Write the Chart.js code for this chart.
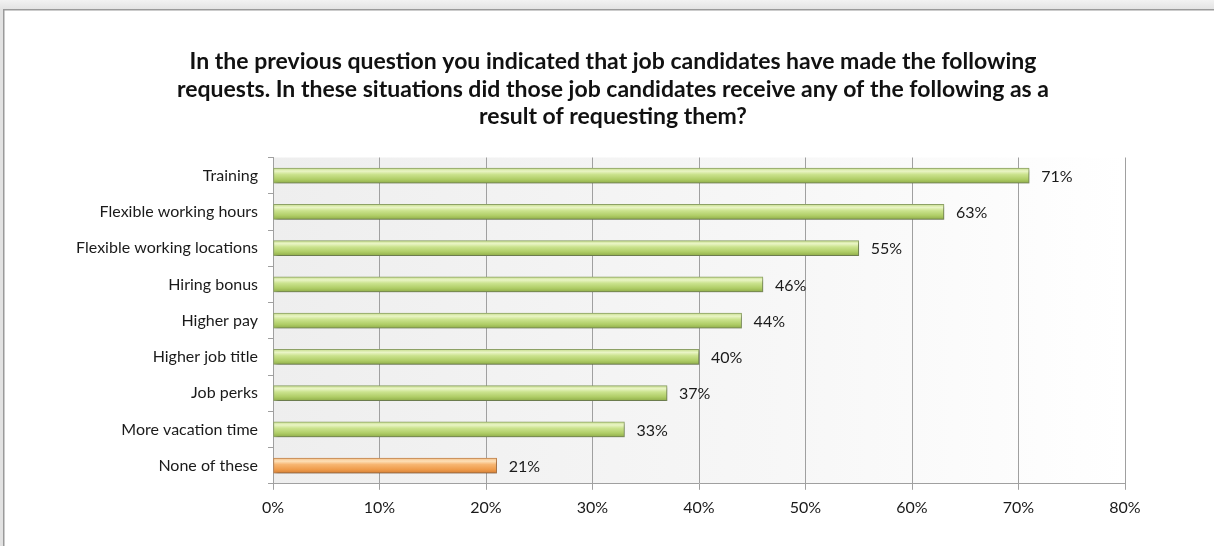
<!DOCTYPE html>
<html>
<head>
<meta charset="utf-8">
<script src="https://cdn.jsdelivr.net/npm/chart.js@4"></script>
<style>
  html, body { margin: 0; padding: 0; background: #ececec; }
  #wrap { position: relative; width: 1214px; height: 546px; }
</style>
</head>
<body>
<div id="wrap"><canvas id="requestsChart"></canvas></div>
<script>
const titleLines = [
  "In the previous question you indicated that job candidates have made the following",
  "requests. In these situations did those job candidates receive any of the following as a",
  "result of requesting them?"
];
const categories = [
  "Training",
  "Flexible working hours",
  "Flexible working locations",
  "Hiring bonus",
  "Higher pay",
  "Higher job title",
  "Job perks",
  "More vacation time",
  "None of these"
];
const values = [71, 63, 55, 46, 44, 40, 37, 33, 21];
const xTicks = [0, 10, 20, 30, 40, 50, 60, 70, 80];
const noneLabel = "None of these";

const BAR_H = 15;
const FONT = "Lato, 'Open Sans', sans-serif";

// cylinder-like shading for each bar, built from the bar's own y position
function barFill(context) {
  const chart = context.chart;
  if (!chart.chartArea) return "#b4d46a";
  const y = chart.scales.y.getPixelForValue(context.dataIndex);
  const g = chart.ctx.createLinearGradient(0, y - BAR_H / 2, 0, y + BAR_H / 2);
  if (categories[context.dataIndex] === noneLabel) {
    g.addColorStop(0, "#f5bf86");
    g.addColorStop(0.2, "#fde0b8");
    g.addColorStop(0.42, "#f7b672");
    g.addColorStop(0.75, "#ef9c4b");
    g.addColorStop(1, "#d58037");
  } else {
    g.addColorStop(0, "#c6dd8c");
    g.addColorStop(0.2, "#eaf5c6");
    g.addColorStop(0.42, "#cbe38e");
    g.addColorStop(0.75, "#afcd66");
    g.addColorStop(1, "#90ad4a");
  }
  return g;
}

function barBorder(context) {
  return categories[context.dataIndex] === noneLabel ? "#c08550" : "#8fa468";
}

// white panel with a grey frame, plus the faded plot background
const framePlugin = {
  id: "frame",
  afterLayout(chart) {
    // centre the title across the whole panel, not just the padded area
    if (chart.titleBlock) {
      chart.titleBlock.left = 12;
      chart.titleBlock.right = chart.width;
    }
  },
  beforeDraw(chart) {
    const { ctx, chartArea: a, width, height } = chart;
    ctx.save();
    const bg = ctx.createLinearGradient(0, 0, 0, 10);
    bg.addColorStop(0, "#f2f2f2");
    bg.addColorStop(1, "#e2e2e2");
    ctx.fillStyle = bg;
    ctx.fillRect(0, 0, width, height);
    ctx.fillStyle = "#ffffff";
    ctx.fillRect(4, 10, width - 4, height - 10);
    ctx.strokeStyle = "#9a9a9a";
    ctx.lineWidth = 1.5;
    ctx.beginPath();
    ctx.moveTo(3.75, height);
    ctx.lineTo(3.75, 9.75);
    ctx.lineTo(width, 9.75);
    ctx.stroke();

    const pg = ctx.createLinearGradient(a.left, 0, a.right, 0);
    pg.addColorStop(0, "#eeeeee");
    pg.addColorStop(0.6, "#f7f7f7");
    pg.addColorStop(1, "#ffffff");
    ctx.fillStyle = pg;
    ctx.fillRect(a.left, a.top, a.right - a.left, a.bottom - a.top);
    ctx.restore();
  }
};

// soft drop shadow under the bars
const shadowPlugin = {
  id: "barShadow",
  beforeDatasetsDraw(chart) {
    const ctx = chart.ctx;
    ctx.save();
    ctx.shadowColor = "rgba(0, 0, 0, 0.3)";
    ctx.shadowBlur = 3;
    ctx.shadowOffsetX = 1.5;
    ctx.shadowOffsetY = 2;
  },
  afterDatasetsDraw(chart) {
    chart.ctx.restore();
  }
};

// percentage label to the right of each bar
const valueLabels = {
  id: "valueLabels",
  afterDatasetsDraw(chart) {
    const ctx = chart.ctx;
    const meta = chart.getDatasetMeta(0);
    ctx.save();
    ctx.font = "16px " + FONT;
    ctx.fillStyle = "#1a1a1a";
    ctx.textAlign = "left";
    ctx.textBaseline = "middle";
    meta.data.forEach((bar, i) => {
      ctx.fillText(values[i] + "%", bar.x + 12, bar.y + 1);
    });
    ctx.restore();
  }
};

new Chart(document.getElementById("requestsChart"), {
  type: "bar",
  data: {
    labels: categories,
    datasets: [
      {
        data: values,
        backgroundColor: barFill,
        borderColor: barBorder,
        borderWidth: 1,
        borderSkipped: false,
        barThickness: BAR_H
      }
    ]
  },
  options: {
    indexAxis: "y",
    responsive: true,
    maintainAspectRatio: false,
    animation: false,
    layout: { padding: { left: 0, right: 89, top: 0, bottom: 21 } },
    plugins: {
      legend: { display: false },
      tooltip: { enabled: false },
      title: {
        display: true,
        text: titleLines,
        color: "#111111",
        font: { family: FONT, size: 23, weight: "bold", lineHeight: 27.5 / 23 },
        padding: { top: 48, bottom: 27 }
      }
    },
    scales: {
      x: {
        min: 0,
        max: 80,
        afterBuildTicks(scale) {
          scale.ticks = xTicks.map((v) => ({ value: v }));
        },
        ticks: {
          callback: (v) => v + "%",
          color: "#1a1a1a",
          font: { family: FONT, size: 16 },
          padding: 8,
          maxRotation: 0
        },
        grid: { color: "#a0a0a0", lineWidth: 1, tickLength: 6 },
        border: { color: "#a0a0a0", width: 1 }
      },
      y: {
        afterFit(scale) {
          scale.width = 273;
        },
        ticks: {
          color: "#1a1a1a",
          font: { family: FONT, size: 16 },
          padding: 10
        },
        grid: { drawOnChartArea: false, color: "#a0a0a0", tickLength: 5 },
        border: { color: "#a0a0a0", width: 1 }
      }
    }
  },
  plugins: [framePlugin, shadowPlugin, valueLabels]
});
</script>
</body>
</html>
